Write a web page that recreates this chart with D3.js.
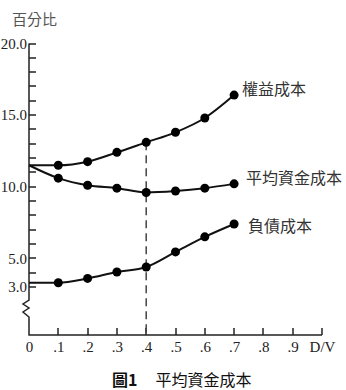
<!DOCTYPE html>
<html>
<head>
<meta charset="utf-8">
<script src="https://cdn.jsdelivr.net/npm/d3@7"></script>
<style>
  body { margin: 0; background: #fff; }
  .tick-label { font-family: "Liberation Serif", serif; font-size: 15px; fill: #222; }
  .cjk { font-family: "Noto Sans CJK TC", "Noto Sans CJK SC", sans-serif; }
</style>
</head>
<body>
<div id="chart"></div>
<script>
// D/V ratio and the three cost curves (percent)
const dvRatio = [0, .1, .2, .3, .4, .5, .6, .7];
const equityCost = [11.5, 11.5, 11.75, 12.4, 13.1, 13.8, 14.8, 16.4];
const waccCost = [11.5, 10.6, 10.1, 9.9, 9.6, 9.7, 9.9, 10.2];
const debtCost = [3.3, 3.3, 3.6, 4.05, 4.4, 5.45, 6.5, 7.4];
const seriesNames = ["權益成本", "平均資金成本", "負債成本"];
const xTicks = [.1, .2, .3, .4, .5, .6, .7, .8, .9, 1];
const xTickLabels = [".1", ".2", ".3", ".4", ".5", ".6", ".7", ".8", ".9", "D/V"];
const yTicks = d3.range(3, 21);
const yTickLabels = { 20: "20.0", 15: "15.0", 10: "10.0", 5: "5.0", 3: "3.0" };
const markedRatio = .4;

const width = 346, height = 390;
const axisY = 335;
const tickLen = 7;

const svg = d3.select("#chart").append("svg")
    .attr("width", width)
    .attr("height", height);

const x = d3.scaleLinear().domain([0, 1]).range([29, 322]);
const y = d3.scaleLinear().domain([3, 20]).range([287, 43.5]);
const x0 = x(0);

// tick marks, all pointing into the plot
const ticks = svg.append("g")
    .attr("stroke", "#222")
    .attr("stroke-width", 1.5);
yTicks.forEach(v => {
    ticks.append("line")
        .attr("x1", x0).attr("x2", x0 + tickLen)
        .attr("y1", Math.round(y(v))).attr("y2", Math.round(y(v)));
});
xTicks.forEach(v => {
    ticks.append("line")
        .attr("x1", Math.round(x(v))).attr("x2", Math.round(x(v)))
        .attr("y1", axisY).attr("y2", axisY - tickLen);
});

// y axis line with a break below 3.0, then the x axis line
svg.append("path")
    .attr("d", `M${x0},${y(20)}V${y(3) + 13}L${x0 - 6},${y(3) + 17}L${x0},${y(3) + 21}L${x0 - 6},${y(3) + 25}L${x0},${y(3) + 30}V${axisY}H${x(1)}`)
    .attr("fill", "none")
    .attr("stroke", "#222")
    .attr("stroke-width", 1.5);

// y labels
const yAxis = svg.append("g")
    .attr("transform", `translate(${x0},0)`)
    .call(d3.axisLeft(y).tickValues(yTicks).tickSize(0).tickPadding(2)
        .tickFormat(d => yTickLabels[d] || ""));
yAxis.select(".domain").remove();
yAxis.selectAll("text").attr("class", "tick-label").attr("fill", null);

// x labels
const xAxis = svg.append("g")
    .attr("transform", `translate(0,${axisY})`)
    .call(d3.axisBottom(x).tickValues([0].concat(xTicks)).tickSize(0).tickPadding(6)
        .tickFormat((d, i) => i === 0 ? "0" : xTickLabels[i - 1]));
xAxis.select(".domain").remove();
xAxis.selectAll("text").attr("class", "tick-label").attr("fill", null);

// dashed marker at D/V = .4
const markIdx = dvRatio.indexOf(markedRatio);
svg.append("line")
    .attr("x1", x(markedRatio)).attr("x2", x(markedRatio))
    .attr("y1", y(equityCost[markIdx])).attr("y2", axisY)
    .attr("stroke", "#444")
    .attr("stroke-width", 1.5)
    .attr("stroke-dasharray", "8,5");

// curves
const line = d3.line()
    .x((d, i) => x(dvRatio[i]))
    .y(d => y(d))
    .curve(d3.curveMonotoneX);

const allSeries = [equityCost, waccCost, debtCost];
const labelOffsets = [[8, -6], [12, -5], [14, 2]];

allSeries.forEach((values, s) => {
    svg.append("path")
        .datum(values)
        .attr("d", line)
        .attr("fill", "none")
        .attr("stroke", "#111")
        .attr("stroke-width", 2);

    svg.append("g").selectAll("circle")
        .data(values.slice(1))
        .enter()
        .append("circle")
        .attr("cx", (d, i) => x(dvRatio[i + 1]))
        .attr("cy", d => y(d))
        .attr("r", 4.5)
        .attr("fill", "#000");

    const last = values.length - 1;
    svg.append("text")
        .attr("class", "cjk")
        .attr("x", x(dvRatio[last]) + labelOffsets[s][0])
        .attr("y", y(values[last]) + labelOffsets[s][1])
        .attr("dy", "0.35em")
        .attr("font-size", 16)
        .attr("fill", "#333")
        .text(seriesNames[s]);
});

// y axis unit
svg.append("text")
    .attr("class", "cjk")
    .attr("x", 12)
    .attr("y", 20)
    .attr("dy", "0.35em")
    .attr("font-size", 15)
    .attr("fill", "#555")
    .text("百分比");

// figure caption
const caption = svg.append("text")
    .attr("class", "cjk")
    .attr("x", 112)
    .attr("y", 380)
    .attr("dy", "0.35em")
    .attr("font-size", 16)
    .attr("fill", "#111");
caption.append("tspan").attr("font-weight", "bold").text("圖1");
caption.append("tspan").attr("dx", 18).text("平均資金成本");
</script>
</body>
</html>
